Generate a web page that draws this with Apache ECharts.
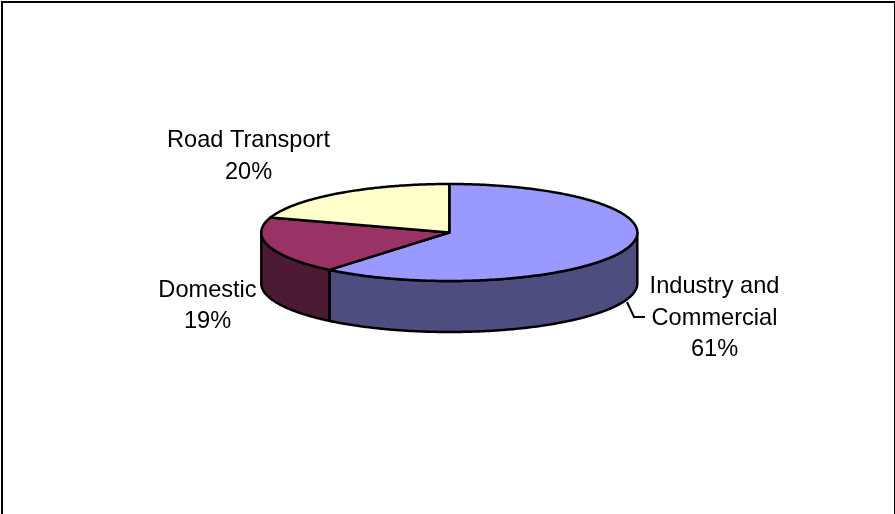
<!DOCTYPE html>
<html>
<head>
<meta charset="utf-8">
<style>
  html, body { margin: 0; padding: 0; background: #fff; }
  #chart { width: 895px; height: 514px; }
</style>
<script src="https://cdn.jsdelivr.net/npm/echarts@6/dist/echarts.min.js"></script>
</head>
<body>
<div id="chart"></div>
<script>
// Share of emissions by sector, in percent
const categories = ['Industry and\nCommercial', 'Domestic', 'Road Transport'];
const shares = [61, 19, 20];
const topColors = ['#9999FF', '#993366', '#FFFFCC'];
const sideColors = ['#4D4D80', '#4D1A33', '#808066'];

// Label centres and the leader line for the largest slice
const labelAnchors = [[714.5, 318], [207.5, 306], [248.5, 156.5]];
const leaderLine = [[627, 302], [634, 317], [645, 317]];

// Tilted disc geometry
const disc = { cx: 449.3, cy: 232.5, rx: 188, ry: 48.5, depth: 51 };
const total = shares.reduce((a, b) => a + b, 0);

// Angles run clockwise from twelve o'clock
function rimPoint(angle, drop) {
  return [disc.cx + disc.rx * Math.sin(angle), disc.cy - disc.ry * Math.cos(angle) + drop];
}

function arcPoints(from, to, drop) {
  const steps = Math.max(2, Math.ceil((to - from) / 0.01));
  const pts = [];
  for (let i = 0; i <= steps; i++) {
    pts.push(rimPoint(from + (to - from) * i / steps, drop));
  }
  return pts;
}

function renderSlice(params, api) {
  const i = params.dataIndex;
  let before = 0;
  for (let k = 0; k < i; k++) before += shares[k];
  const value = api.value(0);
  const start = before / total * Math.PI * 2;
  const end = (before + value) / total * Math.PI * 2;
  const children = [];

  // The outer wall is only visible on the front half of the disc
  const wallFrom = Math.max(start, Math.PI / 2);
  const wallTo = Math.min(end, Math.PI * 1.5);
  if (wallTo > wallFrom) {
    const upper = arcPoints(wallFrom, wallTo, 0);
    const lower = arcPoints(wallFrom, wallTo, disc.depth).reverse();
    children.push({
      type: 'polygon',
      z2: 1,
      shape: { points: upper.concat(lower) },
      style: { fill: sideColors[i], stroke: '#000', lineWidth: 2.5, lineJoin: 'round' }
    });
  }

  children.push({
    type: 'polygon',
    z2: 2,
    shape: { points: [[disc.cx, disc.cy]].concat(arcPoints(start, end, 0)) },
    style: { fill: topColors[i], stroke: '#000', lineWidth: 2.5, lineJoin: 'round' }
  });

  children.push({
    type: 'text',
    z2: 3,
    style: {
      text: categories[i] + '\n' + value + '%',
      x: labelAnchors[i][0],
      y: labelAnchors[i][1],
      align: 'center',
      verticalAlign: 'middle',
      fill: '#000',
      font: '23.6px "Liberation Sans", Arial, sans-serif',
      lineHeight: 31.5
    }
  });

  return { type: 'group', children };
}

const chart = echarts.init(document.getElementById('chart'), null, { renderer: 'canvas' });
chart.setOption({
  animation: false,
  backgroundColor: '#fff',
  graphic: [
    {
      type: 'rect',
      silent: true,
      shape: { x: 2, y: 2, width: 893, height: 600 },
      style: { fill: 'none', stroke: '#000', lineWidth: 2 }
    },
    {
      type: 'polyline',
      silent: true,
      shape: { points: leaderLine },
      style: { fill: 'none', stroke: '#000', lineWidth: 2 }
    }
  ],
  series: [{
    type: 'custom',
    coordinateSystem: 'none',
    silent: true,
    data: shares.map((v, i) => ({ name: categories[i], value: [v] })),
    renderItem: renderSlice
  }]
});
</script>
</body>
</html>
